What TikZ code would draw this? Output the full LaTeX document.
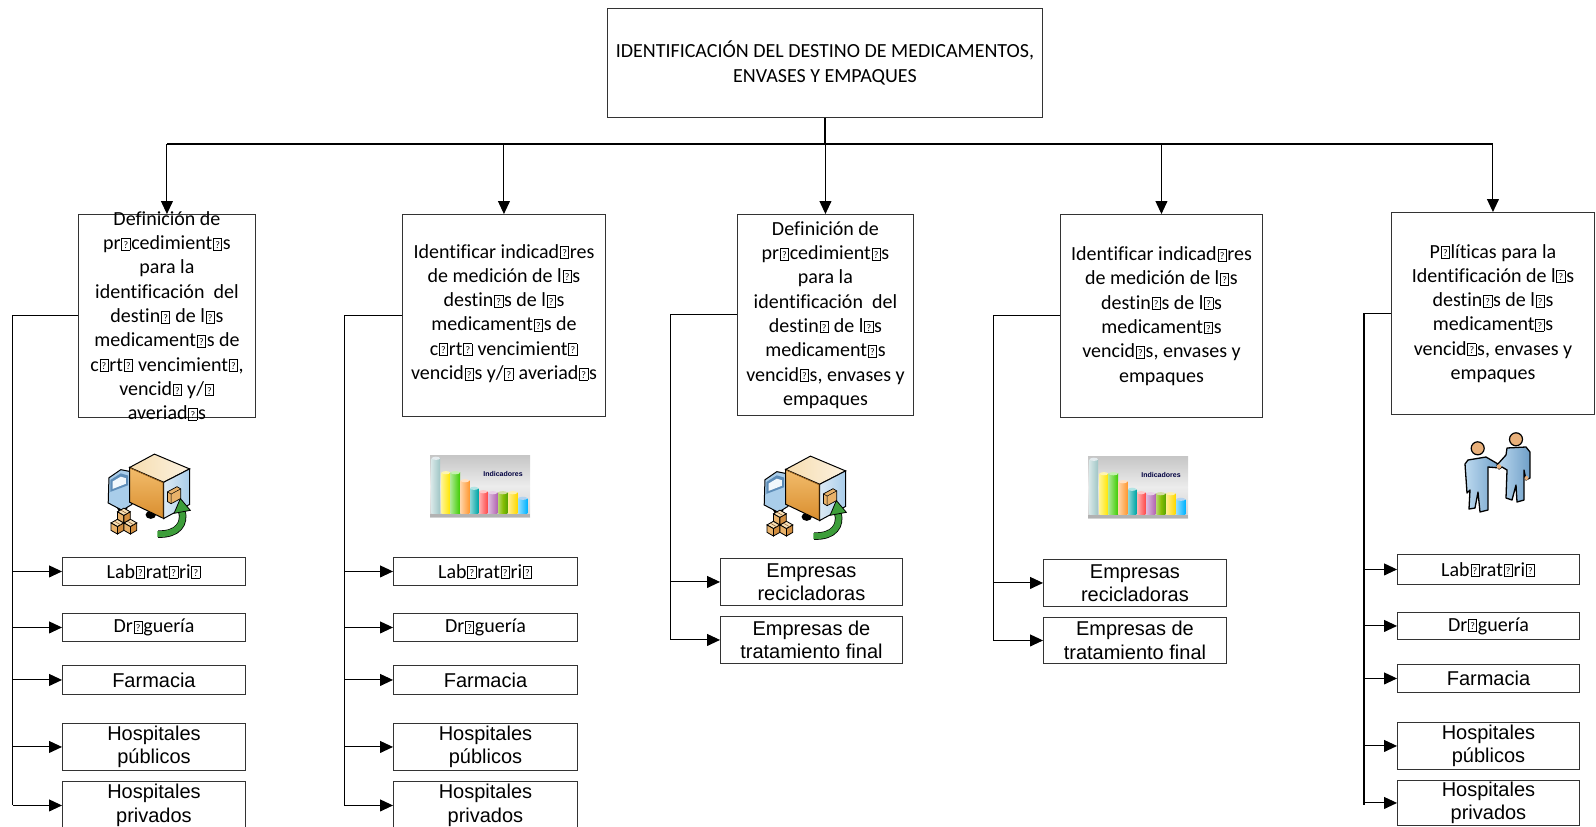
\documentclass[tikz,border=0pt]{standalone}
\usepackage{fontspec}
\setmainfont{Carlito}[Ligatures=CommonOff]
\newfontfamily\arialf{Liberation Sans}
\usetikzlibrary{arrows.meta}

% glyph box used where the original font had no "o"
\newcommand\qg{{\kern0.04em\fboxsep=0pt\fboxrule=0.035em\fbox{\makebox[0.38em]{\rule{0pt}{0.56em}\raisebox{0.07em}{\scalebox{0.5}{?}}}}\kern0.04em}}

\definecolor{cabblue}{HTML}{A9CDEA}
\definecolor{cabdark}{HTML}{5E8DB8}
\definecolor{cargoA}{HTML}{F2BC6C}
\definecolor{cargoB}{HTML}{D98E2E}
\definecolor{cargotop}{HTML}{F6DDB0}
\definecolor{cargoback}{HTML}{DCEAF5}
\definecolor{boxtop}{HTML}{F7DFB5}
\definecolor{boxleft}{HTML}{E9B26A}
\definecolor{boxright}{HTML}{D18D3F}
\definecolor{arrowgreen}{HTML}{3D9E3A}
\definecolor{manA}{HTML}{BCD9EF}
\definecolor{manB}{HTML}{6F9FC8}
\definecolor{skin}{HTML}{E9B07A}

% small isometric parcel, top vertex at (#1,#2)
\newcommand\parcelat[2]{%
  \filldraw[fill=boxtop, draw=black, line width=0.8pt] (#1,#2) -- ++(17.4,10) -- ++(-17.4,10) -- ++(-17.4,-10) -- cycle;
  \filldraw[fill=boxleft, draw=black, line width=0.8pt] (#1,#2) ++(-17.4,10) -- ++(17.4,10) -- ++(0,20) -- ++(-17.4,-10) -- cycle;
  \filldraw[fill=boxright, draw=black, line width=0.8pt] (#1,#2) ++(0,20) -- ++(17.4,-10) -- ++(0,20) -- ++(-17.4,10) -- cycle;
  \draw[brown!70!black, line width=0.5pt] (#1,#2) ++(-8.7,5) -- ++(17.4,10);
}

\tikzset{
  truck/.pic={
    % wheels
    \fill[black] (98,222) ellipse (14 and 11);
    \fill[black] (175,240) ellipse (14 and 11);
    % cab
    \filldraw[fill=cabblue, draw=black, line width=1pt] (62,140) -- (94,118) -- (124,124) -- (124,212) -- (98,228) -- (60,208) -- cycle;
    \fill[cabdark] (66,146) -- (94,128) -- (114,134) -- (114,160) -- (66,178) -- cycle;
    \fill[white!85!cabblue] (72,150) -- (94,137) -- (108,141) -- (108,156) -- (72,170) -- cycle;
    % cargo body
    \shadedraw[top color=cargoA, bottom color=cargoB, draw=black, line width=1pt] (118,112) -- (210,152) -- (210,250) -- (118,206) -- cycle;
    \shadedraw[left color=cargotop, right color=white!60!cargotop, draw=black, line width=1pt] (118,112) -- (185,76) -- (280,116) -- (210,152) -- cycle;
    \shadedraw[left color=cargoback, right color=cabblue, draw=black, line width=1pt] (210,152) -- (280,116) -- (280,212) -- (210,250) -- cycle;
    \draw[cargoB!70!black, line width=0.8pt] (120,114) -- (208,153) -- (208,248);
    % parcel at the rear door
    \filldraw[fill=boxleft, draw=black, line width=0.7pt] (220,178) -- (246,164) -- (256,170) -- (256,196) -- (230,210) -- (220,204) -- cycle;
    \draw[black, line width=0.5pt] (220,178) -- (230,184) -- (256,170) (230,184) -- (230,210);
    % stack of parcels
    \parcelat{85}{252}
    \parcelat{120}{252}
    \parcelat{102.4}{222}
    % green arrow
    \draw[black, line width=7.5pt] (195,292) .. controls (250,294) and (268,262) .. (259,230);
    \draw[arrowgreen, line width=6pt] (193,292) .. controls (250,294) and (268,262) .. (259,229);
    \filldraw[fill=arrowgreen, draw=black, line width=0.8pt] (238,236) -- (255,196) -- (282,228) -- cycle;
  },
  chart/.pic={
    \shade[top color=gray!45, bottom color=gray!35, middle color=white!85!gray] (0,0) rectangle (100,62);
    \fill[gray!60] (0,59) rectangle (100,62);
    \node[font=\arialf\bfseries\fontsize{7}{8}\selectfont, text=blue!25!black, inner sep=0pt] at (73,19) {Indicadores};
    \foreach \xa/\xb/\yt/\col in {1.7/10/3.3/cyan!25!gray!60!white, 11.7/20/17.7/yellow!80!orange, 20.7/30/17.7/green!60!lime!80!black, 30.7/39.3/25.7/orange!80!white, 40/48.3/33.3/teal!70!cyan, 49.3/57.3/36.7/red!70!white, 58.3/67.3/37.7/violet!60!white, 68.3/77.3/37.7/olive!70!green, 78.3/87.3/37.7/yellow!70!orange, 88.3/97.3/43.3/cyan!70!blue}{
      \shade[left color=\col!45!white, right color=\col] (\xa,\yt) rectangle (\xb,58.5);
      \fill[\col!30!white] ({(\xa+\xb)/2},\yt) ellipse ({(\xb-\xa)/2} and 1.6);
    }
  },
  people/.pic={
    % left figure
    \shadedraw[left color=manA, right color=manB, draw=black, line width=1.3pt, line join=round]
      (8,30) -- (26,27) -- (38,34) -- (40,38) -- (28,37) -- (28,58) -- (28,80) -- (20,82) -- (18,62) -- (15,78) -- (9,79) -- (10,60) -- (7,63) -- (5,34) -- cycle;
    \filldraw[fill=skin, draw=black, line width=1.2pt] (17.7,18.3) circle (6.5);
    % right figure
    \shadedraw[left color=manA, right color=manB, draw=black, line width=1.3pt, line join=round]
      (47,18) -- (66,17) -- (70,22) -- (70,48) -- (66,50) -- (64,40) -- (64,70) -- (57,72) -- (56,55) -- (52,70) -- (46,68) -- (47,40) -- (42,37) -- (39,39) -- (37,35) -- (46,25) -- cycle;
    \filldraw[fill=skin, draw=black, line width=1.2pt] (56,9.3) circle (6.5);
    \fill[skin] (39,36.5) circle (2.3);
    \fill[skin] (66.5,48) circle (2);
  }
}

\begin{document}
\begin{tikzpicture}[x=1pt, y=-1pt,
  bx/.style={draw=black!80, line width=0.9pt, fill=white, inner sep=0pt, anchor=north west},
  conn/.style={draw=black, line width=1pt},
  arr/.style={conn, -{Triangle[length=13pt,width=12pt]}},
  ttop/.style={align=center, font=\fontsize{20}{24.4}\selectfont, inner sep=0pt},
  tmid/.style={align=center, font=\fontsize{20}{24.3}\selectfont, inner sep=0pt},
  tleafc/.style={align=center, font=\fontsize{20}{24}\selectfont},
  tleafa/.style={align=center, font=\arialf\fontsize{20}{23.3}\selectfont}]
\useasboundingbox (0,0) rectangle (1596,827);

% root
\node[bx, minimum width=435pt, minimum height=109pt] (root) at (607,8) {};
\node[ttop] at (root.center) {IDENTIFICACIÓN DEL DESTINO DE MEDICAMENTOS,\\ENVASES Y EMPAQUES};

% second level
\node[bx, minimum width=177pt, minimum height=203pt] (c1) at (78,214) {};
\node[bx, minimum width=203pt, minimum height=202pt] (c2) at (402,214) {};
\node[bx, minimum width=176pt, minimum height=201pt] (c3) at (737,214) {};
\node[bx, minimum width=202pt, minimum height=203pt] (c4) at (1060,214) {};
\node[bx, minimum width=203pt, minimum height=202pt] (c5) at (1391,212) {};

\node[tmid] at (c1.center) {Definición de\\pr\qg{}cedimient\qg{}s\\para la\\identificación\ \ del\\destin\qg{} de l\qg{}s\\medicament\qg{}s de\\c\qg{}rt\qg{} vencimient\qg{},\\vencid\qg{} y/\qg{}\\averiad\qg{}s};
\node[tmid] at ([yshift=2pt]c2.center) {Identificar indicad\qg{}res\\de medición de l\qg{}s\\destin\qg{}s de l\qg{}s\\medicament\qg{}s de\\c\qg{}rt\qg{} vencimient\qg{}\\vencid\qg{}s y/\qg{} averiad\qg{}s};
\node[tmid] at (c3.center) {Definición de\\pr\qg{}cedimient\qg{}s\\para la\\identificación\ \ del\\destin\qg{} de l\qg{}s\\medicament\qg{}s\\vencid\qg{}s, envases y\\empaques};
\node[tmid] at (c4.center) {Identificar indicad\qg{}res\\de medición de l\qg{}s\\destin\qg{}s de l\qg{}s\\medicament\qg{}s\\vencid\qg{}s, envases y\\empaques};
\node[tmid] at (c5.center) {P\qg{}líticas para la\\Identificación de l\qg{}s\\destin\qg{}s de l\qg{}s\\medicament\qg{}s\\vencid\qg{}s, envases y\\empaques};

% root to second level
\coordinate (bus) at (825,144);
\draw[line width=1.7pt] (root.south) -- (root.south |- bus);
\draw[line width=1.3pt] (bus -| c1.north) -- (bus -| c5.north);
\foreach \c in {c1,c2,c3,c4,c5}
  \draw[arr] (bus -| \c.north) -- (\c.north);

% leaves, first column
\node[bx, tleafc, minimum width=183pt, minimum height=28pt] (l1a) at (62,557) {Lab\qg{}rat\qg{}ri\qg{}};
\node[bx, tleafc, minimum width=183pt, minimum height=28pt] (l1b) at (62,613) {Dr\qg{}guería};
\node[bx, tleafa, minimum width=183pt, minimum height=29pt] (l1c) at (62,665) {Farmacia};
\node[bx, tleafa, minimum width=183pt, minimum height=47pt] (l1d) at (62,723) {Hospitales\\públicos};
\node[bx, tleafa, minimum width=183pt, minimum height=48pt] (l1e) at (62,781) {Hospitales\\privados};

% leaves, second column
\node[bx, tleafc, minimum width=184pt, minimum height=28pt] (l2a) at (393,557) {Lab\qg{}rat\qg{}ri\qg{}};
\node[bx, tleafc, minimum width=184pt, minimum height=28pt] (l2b) at (393,613) {Dr\qg{}guería};
\node[bx, tleafa, minimum width=184pt, minimum height=29pt] (l2c) at (393,665) {Farmacia};
\node[bx, tleafa, minimum width=184pt, minimum height=47pt] (l2d) at (393,723) {Hospitales\\públicos};
\node[bx, tleafa, minimum width=184pt, minimum height=48pt] (l2e) at (393,781) {Hospitales\\privados};

% leaves, third and fourth columns
\node[bx, tleafa, minimum width=182pt, minimum height=47pt] (l3a) at (720,558) {Empresas\\recicladoras};
\node[bx, tleafa, minimum width=182pt, minimum height=47pt] (l3b) at (720,616) {Empresas de\\tratamiento final};
\node[bx, tleafa, minimum width=183pt, minimum height=47pt] (l4a) at (1043,559) {Empresas\\recicladoras};
\node[bx, tleafa, minimum width=183pt, minimum height=46pt] (l4b) at (1043,617) {Empresas de\\tratamiento final};

% leaves, fifth column
\node[bx, tleafc, minimum width=182pt, minimum height=30pt] (l5a) at (1397,554) {Lab\qg{}rat\qg{}ri\qg{}};
\node[bx, tleafc, minimum width=182pt, minimum height=27pt] (l5b) at (1397,612) {Dr\qg{}guería};
\node[bx, tleafa, minimum width=182pt, minimum height=28pt] (l5c) at (1397,664) {Farmacia};
\node[bx, tleafa, minimum width=182pt, minimum height=47pt] (l5d) at (1397,722) {Hospitales\\públicos};
\node[bx, tleafa, minimum width=182pt, minimum height=45pt] (l5e) at (1397,780) {Hospitales\\privados};

% spines
\coordinate (s1) at (12.7,805);
\coordinate (s2) at (344,805);
\coordinate (s3) at (670,640);
\coordinate (s4) at (993,640);
\coordinate (s5) at (1364,805);
\draw[conn] (c1.west) -| (s1);
\draw[conn] (c2.west) -| (s2);
\draw[conn] (c3.west) -| (s3);
\draw[conn] (c4.west) -| (s4);
\draw[conn, line width=1.4pt] (c5.west) -| (s5);

\foreach \k in {1,2,5}
  \foreach \r in {a,b,c,d,e}
    \draw[arr] (s\k |- l\k\r.west) -- (l\k\r.west);
\foreach \k in {3,4}
  \foreach \r in {a,b}
    \draw[arr] (s\k |- l\k\r.west) -- (l\k\r.west);

% icons
\pic[scale=0.37] at (86,426) {truck};
\pic[scale=0.37] at (742,428) {truck};
\pic at (430,455) {chart};
\pic at (1088,456) {chart};
\pic at (1460,430) {people};

\end{tikzpicture}
\end{document}
